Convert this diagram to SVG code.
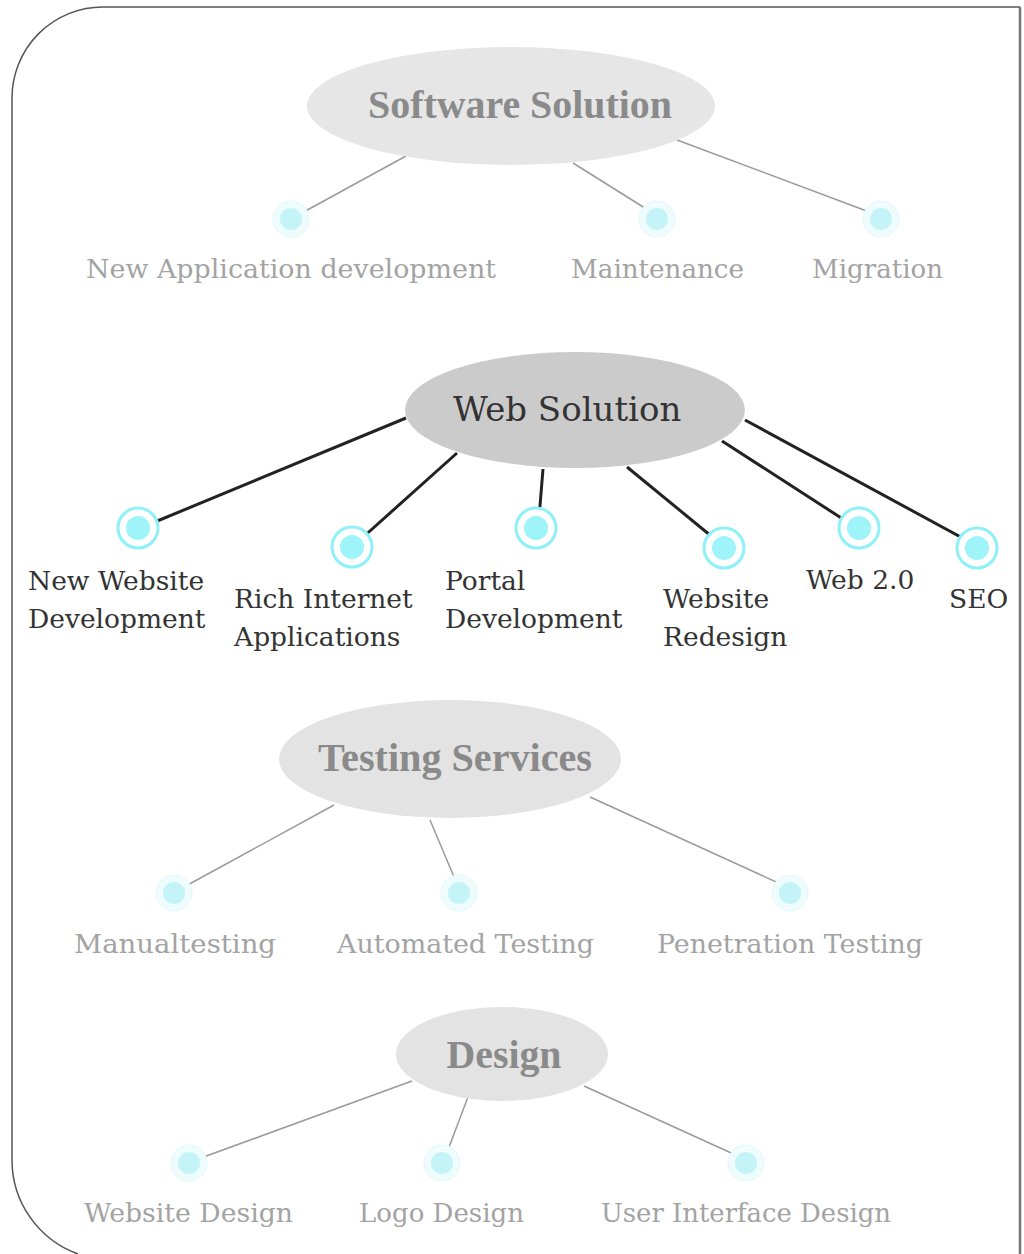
<svg xmlns="http://www.w3.org/2000/svg" width="1024" height="1254" viewBox="0 0 1024 1254">
<style>
.frame{fill:none;stroke:#555;stroke-width:1.5}
.hdr{font-family:"Liberation Serif",serif;font-weight:bold;font-size:40px;fill:#8a8a8a;text-anchor:middle}
.web{font-family:"DejaVu Serif",serif;font-size:34px;fill:#333}
.lbl{font-family:"DejaVu Serif",serif;font-size:26.5px;fill:#333}
.flbl{font-family:"DejaVu Serif",serif;font-size:26px;fill:#a3a3a3}
.fline{stroke:#9a9a9a;stroke-width:1.5;fill:none}
.dline{stroke:#222;stroke-width:3;fill:none}
.glow{fill:#eefcfd;stroke:#e2f8fa;stroke-width:1}
.fdot{fill:#c4f3f8}
.ring{fill:#fff;stroke:#8ef0f8;stroke-width:3}
.dot{fill:#9ef4f8}
</style>
<rect width="1024" height="1254" fill="#fff"/>
<path class="frame" d="M78,1254 A100 100 0 0 1 12,1160 L12,98 A91 91 0 0 1 103,7 L1020,7"/>
<line x1="1020" y1="7" x2="1020" y2="1254" stroke="#777" stroke-width="2.5"/>

<g id="connectors">
  <line class="fline" x1="406" y1="156" x2="300" y2="214"/>
  <line class="fline" x1="573" y1="163" x2="648" y2="210"/>
  <line class="fline" x1="677" y1="140" x2="872" y2="213"/>
  <line class="dline" x1="406" y1="418" x2="150" y2="524"/>
  <line class="dline" x1="457" y1="453" x2="361" y2="539"/>
  <line class="dline" x1="543" y1="469" x2="539" y2="518"/>
  <line class="dline" x1="627" y1="467" x2="716" y2="540"/>
  <line class="dline" x1="722" y1="441" x2="849" y2="523"/>
  <line class="dline" x1="745" y1="420" x2="968" y2="541"/>
  <line class="fline" x1="334" y1="805" x2="184" y2="887"/>
  <line class="fline" x1="430" y1="820" x2="457" y2="884"/>
  <line class="fline" x1="590" y1="797" x2="785" y2="886"/>
  <line class="fline" x1="412" y1="1081" x2="198" y2="1159"/>
  <line class="fline" x1="468" y1="1097" x2="446" y2="1155"/>
  <line class="fline" x1="584" y1="1086" x2="740" y2="1157"/>
</g>

<g id="software-solution">
  <ellipse cx="511" cy="106" rx="204" ry="59" fill="#e6e6e6"/>
  <text class="hdr" x="520" y="118" textLength="304" lengthAdjust="spacingAndGlyphs">Software Solution</text>
</g>
<g id="new-application-development">
  <circle class="glow" cx="291" cy="219" r="18"/><circle class="fdot" cx="291" cy="219" r="11"/>
  <text class="flbl" x="86" y="278" textLength="410" lengthAdjust="spacingAndGlyphs">New Application development</text>
</g>
<g id="maintenance">
  <circle class="glow" cx="657" cy="219" r="18"/><circle class="fdot" cx="657" cy="219" r="11"/>
  <text class="flbl" x="571" y="278" textLength="173" lengthAdjust="spacingAndGlyphs">Maintenance</text>
</g>
<g id="migration">
  <circle class="glow" cx="881" cy="219" r="18"/><circle class="fdot" cx="881" cy="219" r="11"/>
  <text class="flbl" x="812" y="278" textLength="131" lengthAdjust="spacingAndGlyphs">Migration</text>
</g>

<g id="web-solution">
  <ellipse cx="575" cy="410" rx="170" ry="58" fill="#cbcbcb"/>
  <text class="web" x="453" y="421">Web Solution</text>
</g>
<g id="new-website-development">
  <circle class="ring" cx="138" cy="528" r="20"/><circle class="dot" cx="138" cy="528" r="12"/>
  <text class="lbl" x="28" y="590">New Website</text>
  <text class="lbl" x="28" y="628">Development</text>
</g>
<g id="rich-internet-applications">
  <circle class="ring" cx="352" cy="547" r="20"/><circle class="dot" cx="352" cy="547" r="12"/>
  <text class="lbl" x="234" y="608">Rich Internet</text>
  <text class="lbl" x="234" y="646">Applications</text>
</g>
<g id="portal-development">
  <circle class="ring" cx="536" cy="528" r="20"/><circle class="dot" cx="536" cy="528" r="12"/>
  <text class="lbl" x="445" y="590">Portal</text>
  <text class="lbl" x="445" y="628">Development</text>
</g>
<g id="website-redesign">
  <circle class="ring" cx="724" cy="548" r="20"/><circle class="dot" cx="724" cy="548" r="12"/>
  <text class="lbl" x="663" y="608">Website</text>
  <text class="lbl" x="663" y="646">Redesign</text>
</g>
<g id="web-2-0">
  <circle class="ring" cx="859" cy="528" r="20"/><circle class="dot" cx="859" cy="528" r="12"/>
  <text class="lbl" x="806" y="589">Web 2.0</text>
</g>
<g id="seo">
  <circle class="ring" cx="977" cy="548" r="20"/><circle class="dot" cx="977" cy="548" r="12"/>
  <text class="lbl" x="949" y="608">SEO</text>
</g>

<g id="testing-services">
  <ellipse cx="450" cy="759" rx="171" ry="59" fill="#e3e3e3"/>
  <text class="hdr" x="455" y="771" textLength="274" lengthAdjust="spacingAndGlyphs">Testing Services</text>
</g>
<g id="manual-testing">
  <circle class="glow" cx="174" cy="893" r="18"/><circle class="fdot" cx="174" cy="893" r="11"/>
  <text class="flbl" x="74" y="953" textLength="202" lengthAdjust="spacingAndGlyphs">Manualtesting</text>
</g>
<g id="automated-testing">
  <circle class="glow" cx="459" cy="893" r="18"/><circle class="fdot" cx="459" cy="893" r="11"/>
  <text class="flbl" x="337" y="953" textLength="257" lengthAdjust="spacingAndGlyphs">Automated Testing</text>
</g>
<g id="penetration-testing">
  <circle class="glow" cx="790" cy="893" r="18"/><circle class="fdot" cx="790" cy="893" r="11"/>
  <text class="flbl" x="657" y="953" textLength="266" lengthAdjust="spacingAndGlyphs">Penetration Testing</text>
</g>

<g id="design">
  <ellipse cx="502" cy="1054" rx="106" ry="47" fill="#e3e3e3"/>
  <text class="hdr" x="504" y="1068" textLength="115" lengthAdjust="spacingAndGlyphs">Design</text>
</g>
<g id="website-design">
  <circle class="glow" cx="189" cy="1163" r="18"/><circle class="fdot" cx="189" cy="1163" r="11"/>
  <text class="flbl" x="84" y="1222" textLength="209" lengthAdjust="spacingAndGlyphs">Website Design</text>
</g>
<g id="logo-design">
  <circle class="glow" cx="442" cy="1163" r="18"/><circle class="fdot" cx="442" cy="1163" r="11"/>
  <text class="flbl" x="359" y="1222" textLength="165" lengthAdjust="spacingAndGlyphs">Logo Design</text>
</g>
<g id="user-interface-design">
  <circle class="glow" cx="746" cy="1163" r="18"/><circle class="fdot" cx="746" cy="1163" r="11"/>
  <text class="flbl" x="601" y="1222" textLength="290" lengthAdjust="spacingAndGlyphs">User Interface Design</text>
</g>
</svg>
